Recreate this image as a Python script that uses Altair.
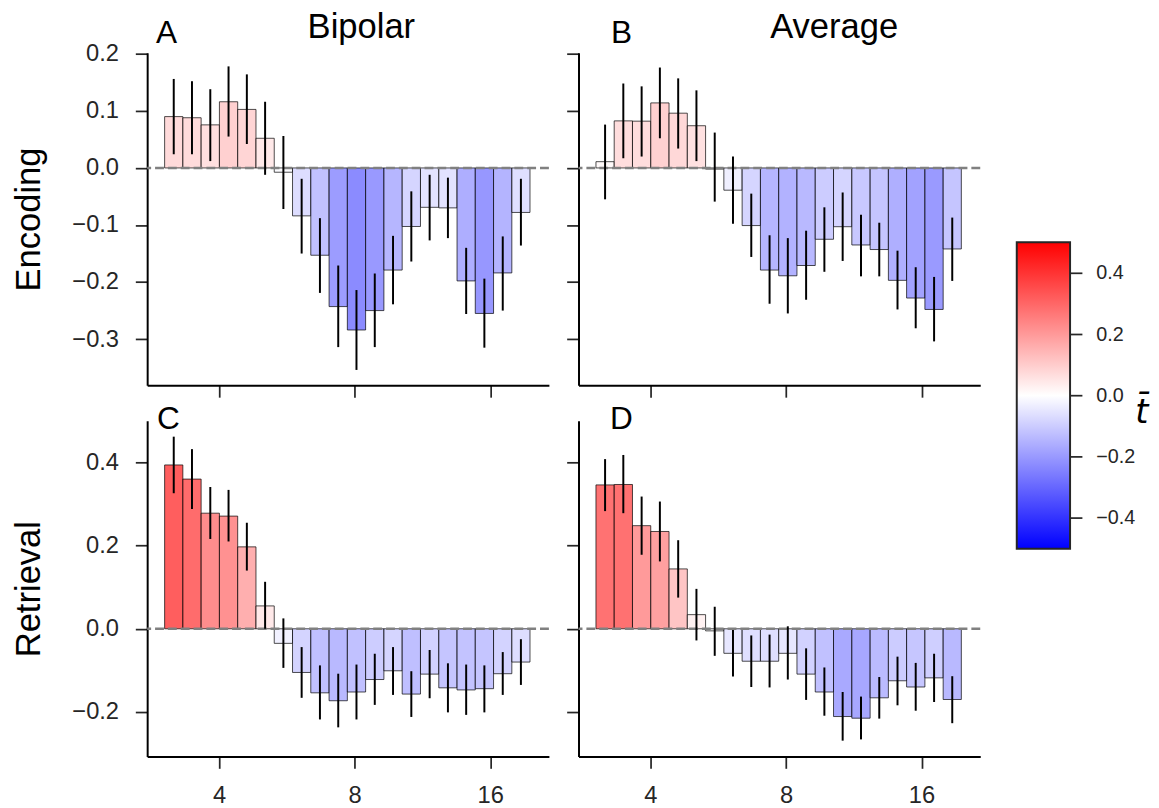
import altair as alt
import numpy as np
import pandas as pd

# Frequencies (Hz), log-spaced bar centres
freqs = [3.173, 3.483, 3.825, 4.199, 4.611, 5.062, 5.558, 6.102, 6.700, 7.357,
         8.076, 8.868, 9.736, 10.69, 11.74, 12.89, 14.15, 15.53, 17.06, 18.72]

# A: Encoding / Bipolar
enc_bip_mean = [0.090, 0.088, 0.0755, 0.116, 0.1026, 0.052, -0.0075, -0.084, -0.153, -0.243,
                -0.284, -0.250, -0.179, -0.1026, -0.069, -0.070, -0.198, -0.255, -0.184, -0.078]
enc_bip_lo = [0.024, 0.024, 0.012, 0.055, 0.042, -0.012, -0.072, -0.150, -0.219, -0.314,
              -0.354, -0.314, -0.239, -0.164, -0.127, -0.123, -0.256, -0.315, -0.250, -0.136]
enc_bip_hi = [0.156, 0.152, 0.138, 0.178, 0.164, 0.116, 0.056, -0.019, -0.088, -0.171,
              -0.214, -0.185, -0.119, -0.041, -0.012, -0.017, -0.140, -0.194, -0.120, -0.019]

# B: Encoding / Average
enc_avg_mean = [0.011, 0.0825, 0.082, 0.114, 0.096, 0.074, -0.002, -0.039, -0.101, -0.179,
                -0.189, -0.171, -0.125, -0.103, -0.135, -0.143, -0.197, -0.228, -0.248, -0.142]
enc_avg_lo = [-0.055, 0.017, 0.020, 0.052, 0.034, 0.012, -0.059, -0.098, -0.156, -0.238,
              -0.255, -0.231, -0.182, -0.163, -0.190, -0.190, -0.248, -0.281, -0.304, -0.198]
enc_avg_hi = [0.076, 0.148, 0.143, 0.176, 0.157, 0.136, 0.062, 0.020, -0.045, -0.118,
              -0.123, -0.110, -0.069, -0.043, -0.082, -0.096, -0.145, -0.174, -0.191, -0.087]

# C: Retrieval / Bipolar
ret_bip_mean = [0.394, 0.360, 0.278, 0.271, 0.197, 0.055, -0.035, -0.105, -0.154, -0.173,
                -0.152, -0.122, -0.101, -0.157, -0.109, -0.142, -0.147, -0.144, -0.108, -0.080]
ret_bip_lo = [0.326, 0.288, 0.216, 0.210, 0.140, 0.000, -0.094, -0.166, -0.218, -0.237,
              -0.218, -0.183, -0.159, -0.212, -0.167, -0.201, -0.207, -0.201, -0.159, -0.135]
ret_bip_hi = [0.462, 0.432, 0.341, 0.334, 0.255, 0.113, 0.025, -0.044, -0.088, -0.108,
              -0.086, -0.060, -0.044, -0.102, -0.051, -0.083, -0.086, -0.088, -0.056, -0.025]

# D: Retrieval / Average
ret_avg_mean = [0.346, 0.347, 0.248, 0.234, 0.144, 0.034, -0.005, -0.059, -0.078, -0.078,
                -0.059, -0.109, -0.152, -0.211, -0.215, -0.166, -0.125, -0.140, -0.118, -0.170]
ret_avg_lo = [0.283, 0.278, 0.178, 0.162, 0.075, -0.028, -0.065, -0.115, -0.140, -0.141,
              -0.122, -0.171, -0.209, -0.269, -0.266, -0.216, -0.184, -0.197, -0.176, -0.227]
ret_avg_hi = [0.408, 0.418, 0.318, 0.306, 0.213, 0.096, 0.053, -0.003, -0.016, -0.014,
              0.006, -0.047, -0.093, -0.152, -0.163, -0.116, -0.067, -0.082, -0.060, -0.114]

x_ticks = [4, 8, 16]
enc_yticks = [-0.3, -0.2, -0.1, 0.0, 0.1, 0.2]
ret_yticks = [-0.2, 0.0, 0.2, 0.4]
cbar_ticks = [-0.4, -0.2, 0.0, 0.2, 0.4]
cbar_lim = [-0.5, 0.5]

FONT = "Liberation Sans"

f = np.array(freqs)
mids = np.sqrt(f[:-1] * f[1:])
left_edges = np.concatenate([[f[0] ** 2 / mids[0]], mids])
right_edges = np.concatenate([mids, [f[-1] ** 2 / mids[-1]]])

XDOM = [2.77, 21.6]
cscale = alt.Scale(domain=[cbar_lim[0], 0, cbar_lim[1]],
                   range=["#0000ff", "#ffffff", "#ff0000"], interpolate="rgb")


def panel(mean, lo, hi, ydom, yticks, ytitle, ylabels, xlabels, letter, lx, ly,
          coltitle=None, tx=None, w=407, h=337):
    df = pd.DataFrame({"f": freqs, "f0": left_edges, "f1": right_edges,
                       "m": mean, "lo": lo, "hi": hi, "z": 0.0})
    xs = alt.Scale(type="log", base=2, domain=XDOM, nice=False)
    ys = alt.Scale(domain=ydom, nice=False, zero=False)
    xaxis = alt.Axis(values=x_ticks, labels=xlabels, title=None, format="d",
                     labelPadding=16)
    if ytitle:
        yaxis = alt.Axis(values=yticks, labels=ylabels, format=".1f", title=ytitle,
                         labelPadding=17, titlePadding=26)
    else:
        yaxis = alt.Axis(values=yticks, labels=ylabels, format=".1f", title=None,
                         labelPadding=17)
    base = alt.Chart(df)
    bars = base.mark_rect(fillOpacity=0.8, stroke="black", strokeOpacity=0.7,
                          strokeWidth=1).encode(
        x=alt.X("f0:Q", scale=xs, axis=xaxis),
        x2="f1:Q",
        y=alt.Y("m:Q", scale=ys, axis=yaxis),
        y2="z:Q",
        color=alt.Color("m:Q", scale=cscale, legend=None),
    )
    zero = alt.Chart(pd.DataFrame({"z": [0.0]})).mark_rule(
        color="#808080", strokeDash=[9, 4], strokeWidth=2.6).encode(y="z:Q")
    err = base.mark_rule(color="black", strokeWidth=2).encode(
        x="f:Q", y="lo:Q", y2="hi:Q")
    lab = alt.Chart(pd.DataFrame({"t": [letter]})).mark_text(
        font=FONT, fontSize=32, align="left", baseline="alphabetic", color="black"
    ).encode(text="t:N", x=alt.value(lx), y=alt.value(ly))
    layers = [bars, zero, err, lab]
    if coltitle:
        ct = alt.Chart(pd.DataFrame({"t": [coltitle]})).mark_text(
            font=FONT, fontSize=35, align="center", baseline="alphabetic", color="black"
        ).encode(text="t:N", x=alt.value(tx), y=alt.value(-15))
        layers.append(ct)
    return alt.layer(*layers).properties(width=w, height=h)


ENC_DOM = [-0.381, 0.202]
RET_DOM = [-0.307, 0.50]

pA = panel(enc_bip_mean, enc_bip_lo, enc_bip_hi, ENC_DOM, enc_yticks, "Encoding",
           True, False, "A", 9, -10, "Bipolar", 217)
pB = panel(enc_avg_mean, enc_avg_lo, enc_avg_hi, ENC_DOM, enc_yticks, None,
           False, False, "B", 33, -10, "Average", 259)
pC = panel(ret_bip_mean, ret_bip_lo, ret_bip_hi, RET_DOM, ret_yticks, "Retrieval",
           True, True, "C", 10, 8, h=340)
pD = panel(ret_avg_mean, ret_avg_lo, ret_avg_hi, RET_DOM, ret_yticks, None,
           False, True, "D", 32, 8, h=340)

top = alt.hconcat(pA, pB, spacing=15)
bottom = alt.hconcat(pC, pD, spacing=15)
grid = alt.vconcat(top, bottom, spacing=5)

cb_df = pd.DataFrame({"lo": [cbar_lim[0]], "hi": [cbar_lim[1]]})
grad = alt.Gradient(
    gradient="linear",
    stops=[alt.GradientStop(color="#0000ff", offset=0),
           alt.GradientStop(color="#ffffff", offset=0.5),
           alt.GradientStop(color="#ff0000", offset=1)],
    x1=0, x2=0, y1=1, y2=0,
)
cbar = alt.Chart(cb_df).mark_rect(fill=grad, stroke="#262626", strokeWidth=2).encode(
    y=alt.Y("lo:Q", scale=alt.Scale(domain=[-1.168, 1.118], nice=False, zero=False),
            axis=alt.Axis(orient="right", values=cbar_ticks, format=".1f", domain=False,
                          labelFontSize=20, labelPadding=14, title="t̄", titleAngle=0,
                          titleAlign="left", titleBaseline="alphabetic", titleY=375,
                          titlePadding=0, titleFont="DejaVu Sans", titleFontStyle="italic",
                          titleFontSize=34)),
    y2="hi:Q",
    x=alt.value(0),
    x2=alt.value(54),
).properties(width=54, height=710)

chart = alt.hconcat(grid, cbar, spacing=34).properties(
    padding={"left": 3, "top": -3, "right": 3, "bottom": 0}
).configure_view(stroke=None).configure_axis(
    grid=False, labelFont=FONT, titleFont=FONT, domainColor="black", domainWidth=2,
    tickColor="#262626", tickWidth=1.75, tickSize=12, labelColor="#262626",
    labelFontSize=24, titleFontSize=35, titleFontWeight="normal", titleColor="black",
)

chart.save("out.html", embed_options={"renderer": "svg", "actions": False})
